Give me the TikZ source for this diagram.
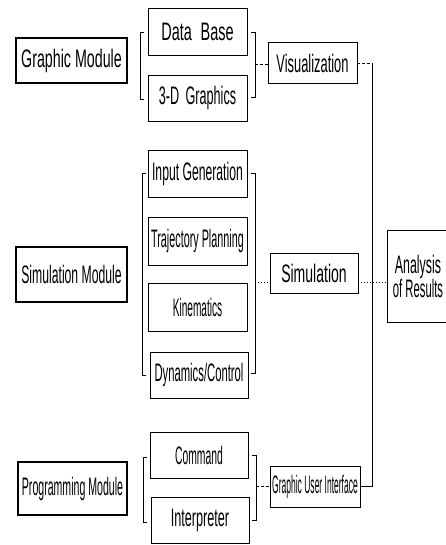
\documentclass[tikz,border=0pt]{standalone}
\usepackage{fontspec}
\usepackage{graphicx}
\setmainfont{Liberation Sans}
\newcommand\hs[2]{\scalebox{#1}[1.1]{#2}}
\begin{document}
\begin{tikzpicture}[x=1pt,y=-1pt,
  box/.style={draw,line width=0.7pt,inner sep=0pt,font=\fontsize{23}{25}\selectfont},
  modbox/.style={box,line width=1.3pt},
  conn/.style={line width=0.6pt},
  dashc/.style={conn,dash pattern=on 3pt off 2pt},
  dotc/.style={conn,dash pattern=on 1pt off 2pt},
  brk/.style={line width=0.8pt}]
\useasboundingbox (0,0) rectangle (445,545);
% Graphic module group
\node[modbox,minimum width=111pt,minimum height=45pt] (gm) at (71.5,60.5) {\hs{0.62}{Graphic Module}};
\node[box,minimum width=99pt,minimum height=47pt] (db) at (197.5,31.5) {\hs{0.63}{Data\hspace{0.6em}Base}};
\node[box,minimum width=99pt,minimum height=46pt] (g3) at (197.5,98) {\hs{0.55}{3-D\hspace{0.5em}Graphics}};
\node[box,minimum width=89pt,minimum height=41pt] (vis) at (312.5,63) {\hs{0.56}{Visualization}};
% Simulation module group
\node[modbox,minimum width=111pt,minimum height=55pt] (sm) at (71.5,274.5) {\hs{0.53}{Simulation Module}};
\node[box,minimum width=99pt,minimum height=47pt] (ig) at (197.5,173.5) {\hs{0.53}{Input Generation}};
\node[box,minimum width=99pt,minimum height=48pt] (tp) at (197.5,241) {\hs{0.47}{Trajectory Planning}};
\node[box,minimum width=99pt,minimum height=48pt] (kin) at (197.5,307) {\hs{0.44}{Kinematics}};
\node[box,minimum width=98pt,minimum height=46pt] (dyn) at (199,375) {\hs{0.49}{Dynamics/Control}};
\node[box,minimum width=88pt,minimum height=40pt] (sim) at (314,273) {\hs{0.61}{Simulation}};
\node[box,minimum width=62pt,minimum height=92pt,align=center] (ana) at (418,276) {\hs{0.54}{Analysis}\\[-1pt]\hs{0.49}{of Results}};
% Programming module group
\node[modbox,minimum width=109pt,minimum height=53pt] (pm) at (72.5,488.5) {\hs{0.46}{Programming Module}};
\node[box,minimum width=98pt,minimum height=46pt] (cmd) at (199,455) {\hs{0.45}{Command}};
\node[box,minimum width=98pt,minimum height=46pt] (int) at (200,520) {\hs{0.55}{Interpreter}};
\node[box,minimum width=90pt,minimum height=41pt] (gui) at (315,486.5) {\hs{0.37}{Graphic User Interface}};
% brackets
\draw[brk] (144,32) -- (140,32) -- (140,99) -- (144,99);
\draw[brk] (251,32) -- (255,32) -- (255,97) -- (251,97);
\draw[brk] (146,173) -- (142,173) -- (142,375) -- (146,375);
\draw[brk] (251,173) -- (255,173) -- (255,373) -- (251,373);
\draw[brk] (147,457) -- (143,457) -- (143,522) -- (147,522);
\draw[brk] (252,455) -- (256,455) -- (256,520) -- (252,520);
% bracket outputs and bus
\coordinate (b1r) at (255,64);
\coordinate (b2r) at (255,282);
\coordinate (b3r) at (256,486.5);
\coordinate (vt) at (372,63);
\coordinate (vb) at (372,486.5);
\draw[dashc] (b1r) -- (b1r -| vis.west);
\draw[dotc] (b2r) -- (b2r -| sim.west);
\draw[dashc] (b3r) -- (gui.west);
\draw[dashc] (vis.east) -- (vt);
\draw[conn] (vt) -- (vb);
\draw[conn] (gui.east) -- (vb);
\draw[dotc] (sim.east |- b2r) -- (ana.west |- b2r);
\end{tikzpicture}
\end{document}
